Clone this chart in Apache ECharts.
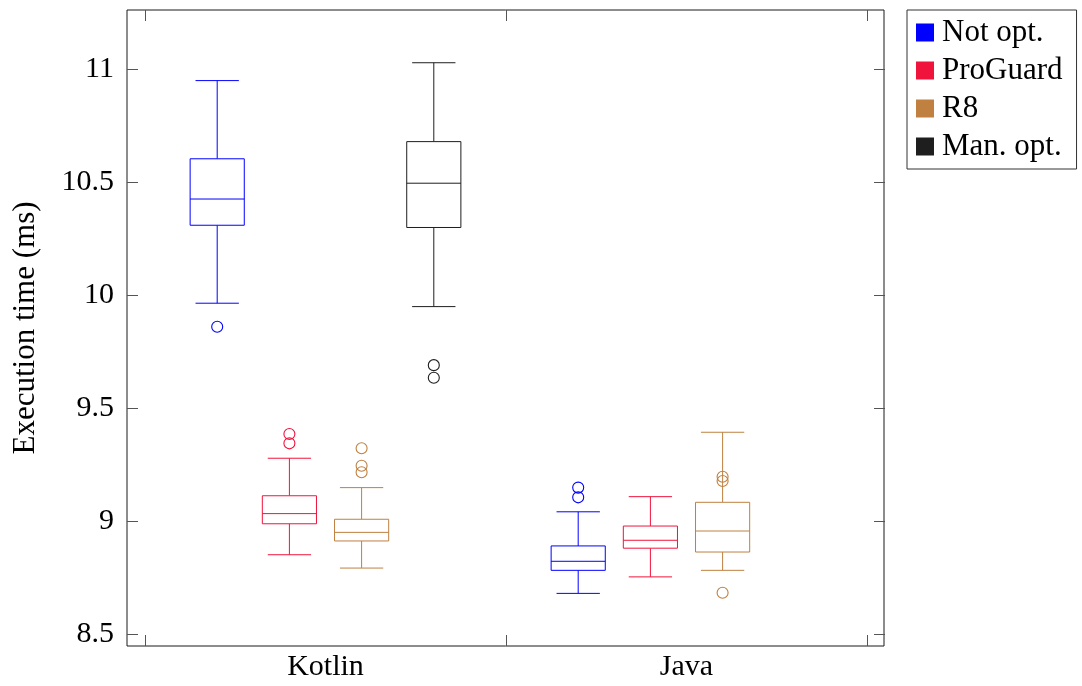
<!DOCTYPE html>
<html>
<head>
<meta charset="utf-8">
<script src="https://cdn.jsdelivr.net/npm/echarts@6/dist/echarts.min.js"></script>
<style>
html,body{margin:0;padding:0;background:#fff;}
#chart{width:1082px;height:686px;}
</style>
</head>
<body>
<div id="chart"></div>
<script>
// ---- data ----
const categories = ['Kotlin', 'Java'];
const seriesNames = ['Not opt.', 'ProGuard', 'R8', 'Man. opt.'];
const seriesColors = ['#0000ff', '#f0143c', '#bf8040', '#1e1e1e'];
// [categoryIndex, lowerWhisker, Q1, median, Q3, upperWhisker]
const notOptBoxes   = [[0, 9.965, 10.310, 10.426, 10.604, 10.950], [1, 8.681, 8.783, 8.823, 8.891, 9.042]];
const proGuardBoxes = [[0, 8.852, 8.989, 9.034, 9.113, 9.279], [1, 8.754, 8.881, 8.916, 8.979, 9.109]];
const r8Boxes       = [[0, 8.793, 8.913, 8.951, 9.009, 9.149], [1, 8.783, 8.864, 8.957, 9.084, 9.394]];
const manOptBoxes   = [[0, 9.950, 10.300, 10.496, 10.680, 11.029]];
// [categoryIndex, value]
const notOptOutliers   = [[0, 9.861], [1, 9.149], [1, 9.106]];
const proGuardOutliers = [[0, 9.386], [0, 9.345]];
const r8Outliers       = [[0, 9.323], [0, 9.246], [0, 9.217], [1, 9.197], [1, 9.178], [1, 8.684]];
const manOptOutliers   = [[0, 9.691], [0, 9.635]];
const yTicks = [8.5, 9, 9.5, 10, 10.5, 11];

const allBoxes = [notOptBoxes, proGuardBoxes, r8Boxes, manOptBoxes];
const allOutliers = [notOptOutliers, proGuardOutliers, r8Outliers, manOptOutliers];
const offsets = [-0.3, -0.1, 0.1, 0.3];

const FONT = 'Liberation Serif';

function boxRenderer(k) {
  const color = seriesColors[k];
  return function (params, api) {
    const cat = api.value(0);
    const bw = api.size([1, 0])[0];
    const pMin = api.coord([cat, api.value(1)]);
    const pQ1 = api.coord([cat, api.value(2)]);
    const pMed = api.coord([cat, api.value(3)]);
    const pQ3 = api.coord([cat, api.value(4)]);
    const pMax = api.coord([cat, api.value(5)]);
    const cx = pMed[0] + offsets[k] * bw;
    const half = 0.075 * bw;
    const capHalf = 0.06 * bw;
    const st = { stroke: color, lineWidth: 1, fill: null };
    return {
      type: 'group',
      children: [
        { type: 'line', shape: { x1: cx, y1: pMax[1], x2: cx, y2: pQ3[1] }, style: st },
        { type: 'line', shape: { x1: cx, y1: pQ1[1], x2: cx, y2: pMin[1] }, style: st },
        { type: 'line', shape: { x1: cx - capHalf, y1: pMax[1], x2: cx + capHalf, y2: pMax[1] }, style: st },
        { type: 'line', shape: { x1: cx - capHalf, y1: pMin[1], x2: cx + capHalf, y2: pMin[1] }, style: st },
        { type: 'rect', shape: { x: cx - half, y: pQ3[1], width: 2 * half, height: pQ1[1] - pQ3[1] }, style: { stroke: color, lineWidth: 1, fill: '#fff' } },
        { type: 'line', shape: { x1: cx - half, y1: pMed[1], x2: cx + half, y2: pMed[1] }, style: st }
      ]
    };
  };
}
function outlierRenderer(k) {
  const color = seriesColors[k];
  return function (params, api) {
    const cat = api.value(0);
    const bw = api.size([1, 0])[0];
    const p = api.coord([cat, api.value(1)]);
    return {
      type: 'circle',
      shape: { cx: p[0] + offsets[k] * bw, cy: p[1], r: 5.5 },
      style: { stroke: color, lineWidth: 1.1, fill: null }
    };
  };
}

const series = [];
seriesNames.forEach(function (name, k) {
  series.push({
    type: 'custom', name: name, xAxisIndex: 0, yAxisIndex: 0,
    itemStyle: { color: seriesColors[k] },
    renderItem: boxRenderer(k),
    encode: { x: 0, y: [1, 2, 3, 4, 5] },
    data: allBoxes[k], silent: true, animation: false
  });
  series.push({
    type: 'custom', name: name, xAxisIndex: 0, yAxisIndex: 0,
    itemStyle: { color: seriesColors[k] },
    renderItem: outlierRenderer(k),
    encode: { x: 0, y: 1 },
    data: allOutliers[k], silent: true, animation: false
  });
});

const tickStyle = { color: '#555', width: 1 };
const chart = echarts.init(document.getElementById('chart'), null, { renderer: 'canvas' });
chart.setOption({
  animation: false,
  backgroundColor: '#fff',
  textStyle: { fontFamily: FONT },
  grid: [
    { left: 145, right: 215, top: 10, bottom: 40, show: false },
    { left: 127, right: 198, top: 10, bottom: 40, show: true, borderColor: '#1a1a1a', borderWidth: 1, backgroundColor: 'transparent', z: 0 }
  ],
  legend: {
    left: 907, top: 10, orient: 'vertical',
    padding: [7, 14, 7, 9],
    itemWidth: 18, itemHeight: 18, itemGap: 7,
    borderColor: '#333', borderWidth: 1,
    selectedMode: false,
    textStyle: { fontFamily: FONT, fontSize: 31, color: '#000', padding: [0, 0, 0, 3] },
    data: seriesNames.map(function (n, k) { return { name: n, icon: 'rect', itemStyle: { color: seriesColors[k], borderWidth: 0 } }; })
  },
  xAxis: [
    { gridIndex: 0, type: 'category', data: categories, position: 'bottom',
      axisLine: { show: false },
      axisTick: { show: true, inside: true, length: 11, lineStyle: tickStyle },
      axisLabel: { fontFamily: FONT, fontSize: 30, color: '#000', margin: 6 },
      splitLine: { show: false } },
    { gridIndex: 0, type: 'category', data: categories, position: 'top',
      axisLine: { show: false },
      axisTick: { show: true, inside: true, length: 11, lineStyle: tickStyle },
      axisLabel: { show: false }, splitLine: { show: false } },
    { gridIndex: 1, type: 'value', show: false }
  ],
  yAxis: [
    { gridIndex: 0, type: 'value', min: 8.4482, max: 11.2624, position: 'left', offset: 18,
      axisLine: { show: false },
      axisTick: { show: true, inside: true, length: 11, lineStyle: tickStyle, customValues: yTicks },
      axisLabel: { fontFamily: FONT, fontSize: 30, color: '#000', margin: 13, customValues: yTicks },
      splitLine: { show: false },
      name: 'Execution time (ms)', nameLocation: 'middle', nameGap: 86, nameRotate: 90,
      nameTextStyle: { fontFamily: FONT, fontSize: 31, color: '#000' } },
    { gridIndex: 0, type: 'value', min: 8.4482, max: 11.2624, position: 'right', offset: 18,
      axisLine: { show: false },
      axisTick: { show: true, inside: true, length: 11, lineStyle: tickStyle, customValues: yTicks },
      axisLabel: { show: false }, splitLine: { show: false } },
    { gridIndex: 1, type: 'value', show: false }
  ],
  series: series
});
</script>
</body>
</html>
